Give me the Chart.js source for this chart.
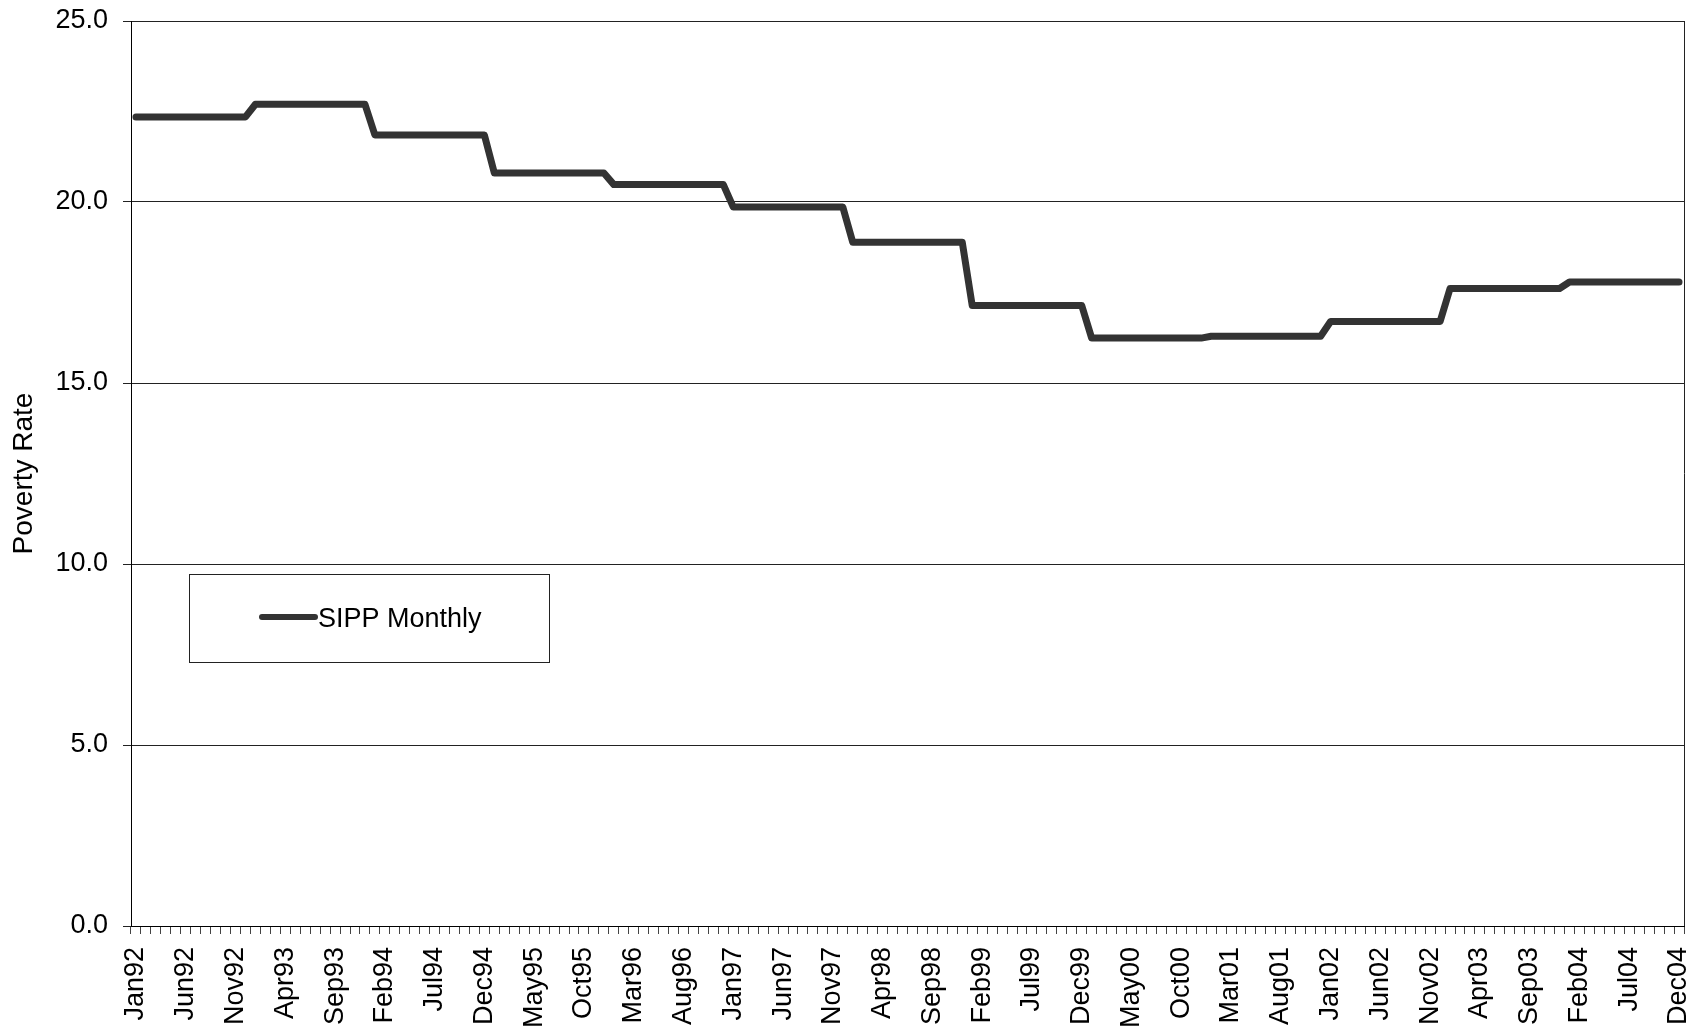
<!DOCTYPE html>
<html>
<head>
<meta charset="utf-8">
<title>SIPP Monthly Poverty Rate</title>
<script src="https://cdn.jsdelivr.net/npm/chart.js@4/dist/chart.umd.min.js"></script>
<style>
  html, body { margin: 0; padding: 0; background: #ffffff; }
  #wrap { width: 1699px; height: 1030px; position: relative; }
</style>
</head>
<body>
<div id="wrap"><canvas id="chart" width="1699" height="1030"></canvas></div>
<script>
// Month abbreviations and two-digit years used for the category labels
const monthNames = ['Jan','Feb','Mar','Apr','May','Jun','Jul','Aug','Sep','Oct','Nov','Dec'];
const years = ['92','93','94','95','96','97','98','99','00','01','02','03','04'];

// SIPP monthly poverty rate (%), Jan 1992 - Dec 2004, one row per year
const sippMonthly = [
  22.35, 22.35, 22.35, 22.35, 22.35, 22.35, 22.35, 22.35, 22.35, 22.35, 22.35, 22.35,
  22.70, 22.70, 22.70, 22.70, 22.70, 22.70, 22.70, 22.70, 22.70, 22.70, 22.70, 22.70,
  21.85, 21.85, 21.85, 21.85, 21.85, 21.85, 21.85, 21.85, 21.85, 21.85, 21.85, 21.85,
  20.80, 20.80, 20.80, 20.80, 20.80, 20.80, 20.80, 20.80, 20.80, 20.80, 20.80, 20.80,
  20.48, 20.48, 20.48, 20.48, 20.48, 20.48, 20.48, 20.48, 20.48, 20.48, 20.48, 20.48,
  19.86, 19.86, 19.86, 19.86, 19.86, 19.86, 19.86, 19.86, 19.86, 19.86, 19.86, 19.86,
  18.89, 18.89, 18.89, 18.89, 18.89, 18.89, 18.89, 18.89, 18.89, 18.89, 18.89, 18.89,
  17.14, 17.14, 17.14, 17.14, 17.14, 17.14, 17.14, 17.14, 17.14, 17.14, 17.14, 17.14,
  16.24, 16.24, 16.24, 16.24, 16.24, 16.24, 16.24, 16.24, 16.24, 16.24, 16.24, 16.24,
  16.29, 16.29, 16.29, 16.29, 16.29, 16.29, 16.29, 16.29, 16.29, 16.29, 16.29, 16.29,
  16.70, 16.70, 16.70, 16.70, 16.70, 16.70, 16.70, 16.70, 16.70, 16.70, 16.70, 16.70,
  17.61, 17.61, 17.61, 17.61, 17.61, 17.61, 17.61, 17.61, 17.61, 17.61, 17.61, 17.61,
  17.79, 17.79, 17.79, 17.79, 17.79, 17.79, 17.79, 17.79, 17.79, 17.79, 17.79, 17.79
];

// Category labels: "Jan92" ... "Dec04"
const monthLabels = [];
years.forEach(y => monthNames.forEach(m => monthLabels.push(m + y)));

// Every fifth month carries a visible label
const labelEvery = 5;

const FONT = "'Liberation Sans', Arial, Helvetica, sans-serif";
const LINE_COLOR = '#333333';

// Closes the plot frame on the right-hand side
const frameBorder = {
  id: 'frameBorder',
  afterDraw(chart) {
    const { ctx, chartArea: a } = chart;
    ctx.save();
    ctx.strokeStyle = '#222222';
    ctx.lineWidth = 1;
    ctx.beginPath();
    ctx.moveTo(Math.round(a.right) + 0.5, a.top);
    ctx.lineTo(Math.round(a.right) + 0.5, a.bottom);
    ctx.stroke();
    ctx.restore();
  }
};

// Boxed legend sitting inside the plot area
const boxedLegend = {
  id: 'boxedLegend',
  afterDatasetsDraw(chart) {
    const { ctx, chartArea: a } = chart;
    const ds = chart.data.datasets[0];
    const bx = a.left + 58, by = a.top + 553, bw = 360, bh = 88;
    ctx.save();
    ctx.fillStyle = '#ffffff';
    ctx.fillRect(bx, by, bw, bh);
    ctx.strokeStyle = '#222222';
    ctx.lineWidth = 1;
    ctx.strokeRect(bx + 0.5, by + 0.5, bw, bh);
    const cy = by + 43;
    ctx.strokeStyle = ds.borderColor;
    ctx.lineWidth = 6;
    ctx.lineCap = 'round';
    ctx.beginPath();
    ctx.moveTo(bx + 73, cy);
    ctx.lineTo(bx + 126, cy);
    ctx.stroke();
    ctx.fillStyle = '#000000';
    ctx.font = '27px ' + FONT;
    ctx.textBaseline = 'middle';
    ctx.textAlign = 'left';
    ctx.fillText(ds.label, bx + 129, cy + 3);
    ctx.restore();
  }
};

new Chart(document.getElementById('chart'), {
  type: 'line',
  data: {
    labels: monthLabels,
    datasets: [{
      label: 'SIPP Monthly',
      data: sippMonthly,
      borderColor: LINE_COLOR,
      backgroundColor: LINE_COLOR,
      borderWidth: 7,
      borderJoinStyle: 'round',
      borderCapStyle: 'round',
      pointRadius: 0,
      tension: 0,
      fill: false
    }]
  },
  options: {
    responsive: false,
    animation: false,
    events: [],
    layout: { padding: { left: 0, top: 21, right: 15, bottom: 0 } },
    plugins: {
      legend: { display: false },
      tooltip: { enabled: false }
    },
    scales: {
      x: {
        type: 'category',
        offset: true,
        grid: {
          offset: true,
          drawOnChartArea: false,
          drawTicks: true,
          tickLength: 8,
          color: '#444444',
          lineWidth: 1
        },
        border: { display: true, color: '#000000', width: 1 },
        ticks: {
          autoSkip: false,
          minRotation: 90,
          maxRotation: 90,
          padding: 13,
          color: '#000000',
          font: { family: FONT, size: 27 },
          callback(value, index) {
            return index % labelEvery === 0 ? this.getLabelForValue(value) : '';
          }
        },
        afterFit(scale) {
          scale.height = 104;
          scale.paddingLeft = 0;
          scale.paddingRight = 0;
        }
      },
      y: {
        min: 0,
        max: 25,
        grid: {
          drawOnChartArea: true,
          drawTicks: true,
          tickLength: 8,
          color: '#222222',
          lineWidth: 1
        },
        border: { display: true, color: '#000000', width: 1 },
        ticks: {
          stepSize: 5,
          padding: 15,
          color: '#000000',
          font: { family: FONT, size: 27 },
          callback: v => Number(v).toFixed(1)
        },
        title: {
          display: true,
          text: 'Poverty Rate',
          color: '#000000',
          font: { family: FONT, size: 28 },
          padding: { top: 7, bottom: 0 }
        },
        afterFit(scale) {
          scale.width = 131;
          scale.paddingTop = 0;
          scale.paddingBottom = 0;
        }
      }
    }
  },
  plugins: [frameBorder, boxedLegend]
});
</script>
</body>
</html>
